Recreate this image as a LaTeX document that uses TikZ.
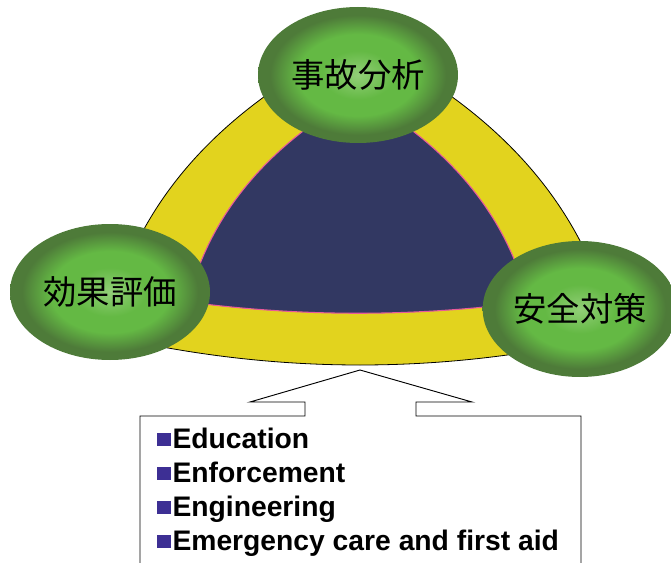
\documentclass[tikz,border=0pt]{standalone}
\usepackage{fontspec}
\setmainfont{Liberation Sans}
\newfontfamily\cjk{Noto Sans CJK JP}
\definecolor{ringyellow}{HTML}{E2D31E}
\definecolor{navy}{HTML}{323862}
\definecolor{pinkline}{HTML}{E85A9A}
\definecolor{gLight}{HTML}{92CF78}
\definecolor{gMid}{HTML}{64B944}
\definecolor{gDark}{HTML}{4E7B39}
\definecolor{bulcol}{HTML}{3D2F94}
\pgfdeclareradialshading{greenball}{\pgfpoint{0bp}{0bp}}{%
  color(0bp)=(gLight); color(9bp)=(gMid); color(15bp)=(gMid); color(22bp)=(gDark); color(50bp)=(gDark)}
\tikzset{
  ball/.style={ellipse, minimum width=#1, minimum height=102pt, inner sep=0pt,
    shading=greenball, font=\cjk\fontsize{25}{28}\selectfont},
  item/.style={anchor=base west, inner sep=0pt, font=\bfseries\fontsize{21.2}{25}\selectfont},
  callout/.style={draw=black, line width=0.7pt},
}
\usetikzlibrary{shapes.geometric}
\newcommand{\bul}{\textcolor{bulcol}{\rule[0.07em]{0.5em}{0.46em}}\hspace{0.04em}}
\begin{document}
\begin{tikzpicture}[x=0.75pt, y=-0.75pt]
\useasboundingbox (0,0) rectangle (671,563);
% outer yellow curved triangle
\coordinate (L) at (105,335);
\coordinate (T) at (358,40);
\coordinate (R) at (615,335);
\draw[fill=ringyellow, draw=black, line width=0.6pt]
  (L) .. controls (136,188) and (236,102) .. (T)
      .. controls (480,102) and (580,188) .. (R)
      .. controls (445,375) and (275,375) .. (L) -- cycle;
% inner navy curved triangle
\coordinate (Li) at (188,302);
\coordinate (Ti) at (358,95);
\coordinate (Ri) at (528,302);
\draw[fill=navy, draw=pinkline, line width=0.8pt]
  (Li) .. controls (210,210) and (274,142) .. (Ti)
       .. controls (442,142) and (506,210) .. (Ri)
       .. controls (414,317) and (302,317) .. (Li) -- cycle;
% ellipses
\node[ball=150pt] (top) at (358,75) {事故分析};
\node[ball=150pt] (left) at (110,292) {効果評価};
\node[ball=146pt] (right) at (580,309) {安全対策};
% callout box
\coordinate (tip) at (360,370);
\draw[callout] (140,575) -- (140,416) -- (305,416) -- (305,402) -- (250,402)
  -- (tip) -- (472,402) -- (416,402) -- (416,416) -- (581,416) -- (581,575);
\node[item] (i1) at (157,448) {\bul Education};
\node[item] (i2) at (157,482) {\bul Enforcement};
\node[item] (i3) at (157,516) {\bul Engineering};
\node[item] (i4) at (157,550) {\bul Emergency care and first aid};
\end{tikzpicture}
\end{document}
